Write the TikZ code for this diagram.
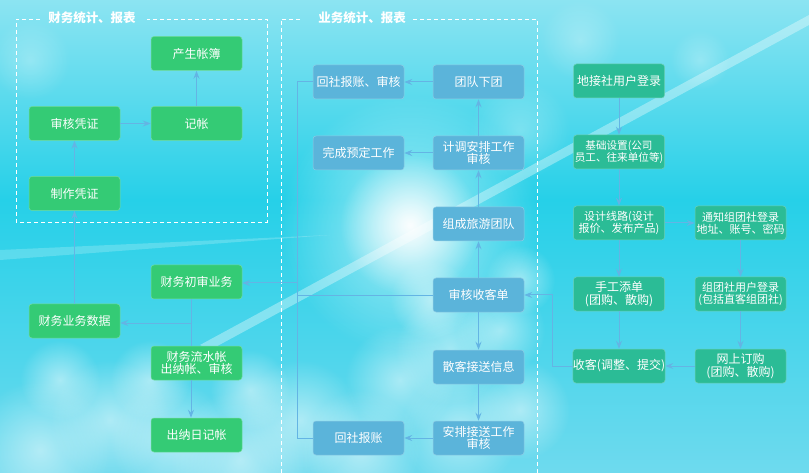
\documentclass[tikz,border=0pt]{standalone}
\usepackage{fontspec}
\newfontfamily\cjk{Noto Sans CJK SC}
\usetikzlibrary{arrows.meta,fadings}
\tikzfading[name=glowfade, inner color=transparent!0, outer color=transparent!100]
\tikzfading[name=cloudfade, inner color=transparent!10, middle color=transparent!30, outer color=transparent!100]
\definecolor{gnode}{RGB}{52,203,117}
\definecolor{bnode}{RGB}{91,180,218}
\definecolor{tnode}{RGB}{43,188,150}
\definecolor{lnk}{RGB}{100,180,228}
\definecolor{skytop}{RGB}{140,228,242}
\definecolor{skymid}{RGB}{38,208,232}
\definecolor{skybot}{RGB}{110,218,238}
\tikzset{
  x=1pt,y=-1pt,
  box/.style={rounded corners=3pt,minimum width=91pt,minimum height=34pt,inner sep=0pt,
    align=center,text=white,font=\cjk\fontsize{12}{12.5}\selectfont},
  small/.style={font=\cjk\fontsize{11}{12}\selectfont},
  tiny/.style={font=\cjk\fontsize{10.6}{12}\selectfont},
  gbox/.style={box,fill=gnode,draw=gnode!70!white,line width=0.5pt},
  bbox/.style={box,fill=bnode,draw=bnode!70!white,line width=0.5pt},
  tbox/.style={box,fill=tnode,draw=tnode!70!white,line width=0.5pt},
  conn/.style={draw=lnk,line width=1pt},
  arr/.style={conn,-{Stealth[length=8pt,width=6pt,inset=3pt]}},
  frame/.style={draw=white,dashed,dash pattern=on 4pt off 3pt,line width=0.8pt},
  ttl/.style={text=white,font=\cjk\bfseries\fontsize{12.5}{13}\selectfont,inner sep=0pt}
}
\begin{document}
\begin{tikzpicture}
% background
\shade[top color=skytop,bottom color=skymid] (0,0) rectangle (809,200);
\shade[top color=skymid,bottom color=skybot] (0,200) rectangle (809,473);
\useasboundingbox (0,0) rectangle (809,473);
% clouds
\foreach \cx/\cy/\r in {40/450/70,110/420/60,170/440/60,240/460/70,300/420/60,360/450/60,
  400/380/55,450/350/55,500/330/45,460/430/60,520/410/50,250/390/40,60/380/40,150/380/40,
  520/280/35,430/300/40}{
  \fill[white,path fading=cloudfade,opacity=0.55] (\cx,\cy) circle (\r);
}
\foreach \cx/\cy/\r in {520/130/50,580/40/40,700/60/30,30/60/40}{
  \fill[white,path fading=cloudfade,opacity=0.3] (\cx,\cy) circle (\r);
}
% streaks
\fill[white,opacity=0.35] (200,345) -- (809,15) -- (809,25) -- (210,350) -- cycle;
\fill[white,opacity=0.2] (0,250) -- (330,235) -- (0,260) -- cycle;
% sun glow
\fill[white,path fading=glowfade,opacity=0.95] (410,225) circle (70);
\fill[white,path fading=glowfade,opacity=0.6] (410,225) circle (130);

% frames
\draw[frame] (40,19) -- (16,19) -- (16,222) -- (267,222) -- (267,19) -- (147,19);
\node[ttl] (t1) at (92,18) {财务统计、报表};
\draw[frame] (300,19) -- (281,19) -- (281,480);
\draw[frame] (413,19) -- (537,19) -- (537,480);
\node[ttl] (t2) at (362,18) {业务统计、报表};

% left green nodes
\node[gbox] (chan) at (196.5,53.5) {产生帐簿};
\node[gbox] (shen) at (74.5,123.5) {审核凭证};
\node[gbox] (jz) at (196.5,123.5) {记帐};
\node[gbox] (zz) at (74.5,193.5) {制作凭证};
\node[gbox] (csyw) at (196.5,282) {财务初审业务};
\node[gbox] (ywsj) at (74.5,321) {财务业务数据};
\node[gbox] (lsz) at (196.5,363) {财务流水帐\\出纳帐、审核};
\node[gbox] (rjz) at (196.5,435) {出纳日记帐};

% middle blue nodes
\node[bbox] (hsbz) at (358.5,82) {回社报账、审核};
\node[bbox] (tdxt) at (478.5,82) {团队下团};
\node[bbox] (wcyd) at (358.5,153) {完成预定工作};
\node[bbox] (jdap) at (478.5,153) {计调安排工作\\审核};
\node[bbox] (zclt) at (478.5,224) {组成旅游团队};
\node[bbox] (shsk) at (478.5,295) {审核收客单};
\node[bbox] (skjs) at (478.5,367) {散客接送信息};
\node[bbox] (apjs) at (478.5,438) {安排接送工作\\审核};
\node[bbox] (hsb) at (358.5,438) {回社报账};

% right teal nodes
\node[tbox] (djs) at (619,81) {地接社用户登录};
\node[tbox,tiny] (jcsz) at (619,152) {基础设置(公司\\员工、往来单位等)};
\node[tbox,small] (sjxl) at (619,223) {设计线路(设计\\报价、发布产品)};
\node[tbox,small] (tzzt) at (740.5,223) {通知组团社登录\\地址、账号、密码};
\node[tbox] (sgtd) at (619,294) {手工添单\\(团购、散购)};
\node[tbox,small] (ztsdl) at (740.5,294) {组团社用户登录\\(包括直客组团社)};
\node[tbox] (sk) at (619,366) {收客(调整、提交)};
\node[tbox] (wsdg) at (740.5,366) {网上订购\\(团购、散购)};

% left connectors
\draw[arr] (zz) -- (shen);
\draw[arr] (shen) -- (jz);
\draw[arr] (jz) -- (chan);
\draw[arr] (ywsj) -- (zz);
\coordinate (b1) at (191,323);
\draw[conn] (csyw.south -| b1) -- (lsz.north -| b1);
\draw[arr] (b1) -- (ywsj.east |- b1);
\draw[arr] (lsz.south -| b1) -- (rjz.north -| b1);

% middle connectors
\coordinate (j1) at (297,283);
\coordinate (j2) at (297,296);
\draw[conn] (hsbz.west) -- (hsbz.west -| j1) -- (hsb.west -| j1) -- (hsb.west);
\draw[arr] (j1) -- (csyw.east |- j1);
\draw[conn] (shsk.west |- j2) -- (j2);
\draw[arr] (tdxt) -- (hsbz);
\draw[arr] (jdap) -- (tdxt);
\draw[arr] (jdap) -- (wcyd);
\draw[arr] (zclt) -- (jdap);
\draw[arr] (shsk) -- (zclt);
\draw[arr] (shsk) -- (skjs);
\draw[arr] (skjs) -- (apjs);
\draw[arr] (apjs) -- (hsb);

% right connectors
\coordinate (j3) at (552,295);
\draw[arr] (sk.west) -- (sk.west -| j3) -- (j3) -- (shsk.east |- j3);
\draw[arr] (djs) -- (jcsz);
\draw[arr] (jcsz) -- (sjxl);
\draw[arr] (sjxl) -- (tzzt);
\draw[arr] (sjxl) -- (sgtd);
\draw[arr] (tzzt) -- (ztsdl);
\draw[arr] (sgtd) -- (sk);
\draw[arr] (ztsdl) -- (wsdg);
\draw[arr] (wsdg) -- (sk);
\end{tikzpicture}
\end{document}
